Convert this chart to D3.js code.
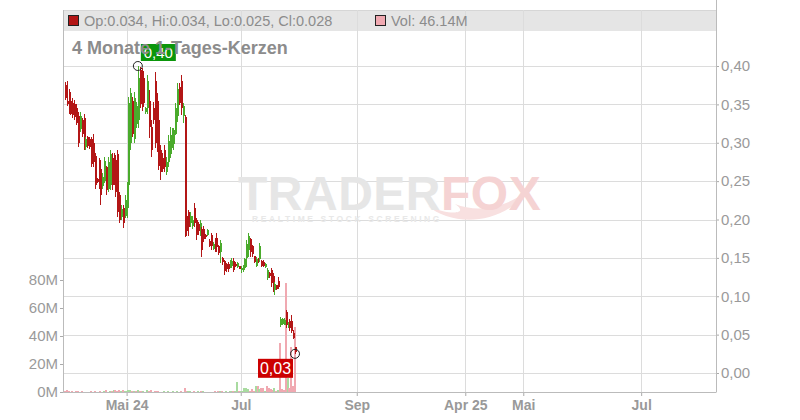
<!DOCTYPE html>
<html><head><meta charset="utf-8">
<script src="https://cdn.jsdelivr.net/npm/d3@7"></script>
<style>
body{margin:0;background:#fff;}
svg{display:block;font-family:"Liberation Sans",Arial,sans-serif;}
</style></head>
<body><svg id="c" width="800" height="420"></svg>
<script>
// ---- data ----
const firstDayOffset = -33; // first candle: 2024-03-29, offset in days from 2024-05-01
const openV  = [.375,.355,.366,.355,.352,.350,.345,.335,.318,.330,.332,.294,.307,.305,.305,.300,.283,.253,.277,.266,
 .243,.250,.268,.240,.245,.280,.275,.278,.285,.232,.203,.215,.205,.215,.245,.300,.355,.305,.325,.330,
 .395,.390,.385,.340,.345,.355,.320,.345,.380,.355,.330,.290,.280,.290,.262,.275,.285,.295,.298,.312,
 .335,.372,.380,.335,.333,.205,.210,.195,.192,.215,.200,.194,.183,.188,.188,.180,.180,.172,.180,.162,
 .173,.176,.165,.158,.150,.146,.142,.142,.138,.140,.146,.142,.138,.139,.134,.135,.137,.150,.160,.175,
 .165,.152,.140,.149,.148,.146,.145,.138,.124,.130,.134,.126,.108,.115,.120,.062,.064,.063,.080,.060,
 .068,.068,.052,.034];
const highV  = [.379,.380,.370,.358,.358,.356,.350,.340,.340,.332,.337,.307,.309,.308,.307,.312,.287,.254,.280,.270,
 .260,.281,.270,.281,.290,.287,.286,.284,.291,.236,.219,.219,.232,.249,.360,.371,.360,.366,.353,.400,
 .399,.398,.394,.347,.388,.369,.330,.353,.392,.365,.345,.297,.287,.297,.281,.310,.320,.319,.319,.352,
 .378,.378,.388,.352,.336,.206,.212,.210,.205,.221,.202,.197,.199,.190,.191,.181,.188,.175,.182,.171,
 .176,.182,.167,.173,.151,.147,.143,.145,.147,.150,.150,.145,.145,.140,.139,.141,.150,.173,.183,.176,
 .167,.153,.151,.150,.169,.147,.147,.143,.137,.132,.137,.130,.119,.115,.125,.073,.072,.072,.082,.066,
 .070,.075,.056,.034];
const lowV   = [.356,.348,.338,.336,.332,.330,.323,.294,.314,.307,.291,.291,.293,.292,.268,.269,.240,.248,.240,.219,
 .240,.248,.232,.236,.238,.238,.245,.229,.203,.195,.199,.189,.202,.202,.242,.290,.307,.300,.319,.319,
 .345,.342,.346,.338,.338,.306,.281,.325,.293,.288,.264,.251,.262,.262,.258,.268,.280,.293,.291,.310,
 .327,.349,.336,.326,.177,.178,.178,.190,.188,.190,.173,.180,.179,.151,.171,.175,.179,.164,.160,.160,
 .158,.158,.154,.143,.141,.128,.131,.131,.137,.137,.131,.138,.137,.135,.130,.132,.134,.138,.151,.151,
 .151,.143,.138,.143,.145,.138,.138,.137,.121,.124,.112,.105,.102,.108,.110,.060,.062,.062,.058,.058,
 .055,.052,.044,.025];
const closeV = [.358,.351,.342,.338,.336,.333,.326,.300,.335,.312,.296,.305,.296,.295,.272,.275,.245,.249,.243,.232,
 .256,.276,.238,.275,.285,.245,.250,.236,.210,.200,.214,.195,.226,.243,.352,.365,.312,.358,.348,.385,
 .350,.348,.352,.345,.380,.320,.290,.330,.300,.295,.270,.262,.266,.268,.275,.302,.310,.312,.316,.345,
 .370,.352,.345,.348,.203,.185,.190,.205,.200,.196,.180,.185,.195,.160,.175,.177,.186,.166,.165,.168,
 .162,.164,.157,.170,.144,.133,.135,.136,.145,.146,.134,.140,.143,.136,.137,.139,.148,.168,.178,.158,
 .155,.145,.149,.145,.165,.140,.139,.142,.134,.126,.117,.110,.116,.110,.112,.071,.070,.069,.062,.064,
 .058,.055,.046,.028];
const volumeM = [0.6,1.2,0.4,0.3,0.5,0.3,0.4,1.0,0.3,0.4, 0.3,0.2,0.3,0.2,0.4,0.3,0.5,0.2,0.3,0.6,
 0.3,0.4,1.1,0.3,0.4,0.5,1.5,1.3,0.9,1.4, 0.5,1.5,0.8,0.6,1.6,1.4,0.6,0.5,0.4,1.5,
 0.5,0.4,0.6,0.3,1.4,0.4,1.3,0.3,0.4,0.5, 0.4,0.3,0.3,0.4,0.3,0.4,0.3,0.3,0.4,0.3,
 0.4,0.3,0.4,0.3,3.0,0.4,1.0,0.9,0.3,0.4, 0.3,0.4,0.3,1.0,0.4,0.3,0.3,0.2,0.3,0.3,
 0.4,0.3,0.4,0.5,0.4,0.3,0.4,0.3,0.4,1.0, 0.6,0.5,7.0,1.0,0.5,0.6,3.0,3.2,2.5,1.0,
 2.0,0.8,4.0,4.2,2.0,3.0,3.0,1.0,4.0,3.0, 2.0,1.5,3.0,1.0,1.2,35,2.0,1.5,78,10,
 3.0,32,4.0,46.14];
const priceTicks = [0,0.05,0.10,0.15,0.20,0.25,0.30,0.35,0.40];
const volTicks = [0,20,40,60,80];
const timeTickDays = [0,61,123,181,212,275];
const timeTickLabels = ["Mai 24","Jul","Sep","Apr 25","Mai","Jul"];
const titleText = "4 Monate 1-Tages-Kerzen";
const legendText = "Op:0.034, Hi:0.034, Lo:0.025, Cl:0.028";
const volLegendText = "Vol: 46.14M";

// ---- layout ----
const L = 63, R = 716, T = 10, B = 392;
const svg = d3.select("#c");
const x = d3.scaleLinear().domain([-34, 315]).range([L, R]);
const y = d3.scaleLinear().domain([0, 0.40]).range([373, 66]);
const yv = d3.scaleLinear().domain([0, 80]).range([B, 280]);
const RED = "#b31616", GREEN = "#4aab2c", VRED = "#f0a9b1", VGREEN = "#a9dba0";

const candles = openV.map((o,i)=>({i, day:firstDayOffset+i, o, h:highV[i], l:lowV[i], c:closeV[i], v:volumeM[i]}));

// header band
svg.append("rect").attr("x",L).attr("y",T).attr("width",R-L).attr("height",21).attr("fill","#e5e5e5");
svg.append("line").attr("x1",L).attr("x2",R).attr("y1",T+0.5).attr("y2",T+0.5).attr("stroke","#d6d6d6");

// grid
const grid = svg.append("g").attr("shape-rendering","crispEdges");
grid.selectAll("line.h").data(priceTicks).join("line")
  .attr("x1",L).attr("x2",R).attr("y1",d=>Math.round(y(d))+0.5).attr("y2",d=>Math.round(y(d))+0.5)
  .attr("stroke","#dcdcdc");
grid.selectAll("line.v").data(timeTickDays).join("line")
  .attr("y1",T).attr("y2",B).attr("x1",d=>Math.round(x(d))+0.5).attr("x2",d=>Math.round(x(d))+0.5)
  .attr("stroke","#dcdcdc");

// watermark
const wm = svg.append("g");
wm.append("path").attr("d","M428,206 C452,226 505,230 540,178 C515,208 480,214 455,204 C470,214 450,216 428,206 Z")
  .attr("fill","#f8e0e0");
const wmt = wm.append("text").attr("x",238).attr("y",210).attr("font-size",48).attr("font-weight","bold")
  .attr("letter-spacing",0.5);
wmt.append("tspan").attr("fill","#e6e6e6").text("TRADER");
wmt.append("tspan").attr("fill","#f5d3d3").text("FOX");
wm.append("text").attr("x",252).attr("y",222).attr("font-size",8.5).attr("letter-spacing",2.6)
  .attr("fill","#e8e8e8").attr("font-weight","bold").text("REALTIME STOCK SCREENING");

// volume bars
svg.append("g").attr("shape-rendering","crispEdges").selectAll("rect").data(candles).join("rect")
  .attr("x",d=>Math.round(x(d.day))-1).attr("width",2)
  .attr("y",d=>yv(d.v)).attr("height",d=>B-yv(d.v))
  .attr("fill",d=>{const prev = d.i>0?closeV[d.i-1]:d.o; return d.c>=prev?VGREEN:VRED;});

// candles
const cg = svg.append("g").attr("shape-rendering","crispEdges");
const cs = cg.selectAll("g").data(candles).join("g");
cs.append("line")
  .attr("x1",d=>Math.round(x(d.day))+0.5).attr("x2",d=>Math.round(x(d.day))+0.5)
  .attr("y1",d=>y(d.h)).attr("y2",d=>y(d.l))
  .attr("stroke",d=>d.c>=d.o?GREEN:RED).attr("stroke-width",1);
cs.append("rect")
  .attr("x",d=>Math.round(x(d.day))-0.5).attr("width",2)
  .attr("y",d=>y(Math.max(d.o,d.c))).attr("height",d=>Math.max(1,Math.abs(y(d.o)-y(d.c))))
  .attr("fill",d=>d.c>=d.o?GREEN:RED);

// axes
const axRight = svg.append("g").attr("transform",`translate(${R},0)`)
  .call(d3.axisRight(y).tickValues(priceTicks).tickSize(3).tickPadding(2).tickSizeOuter(0)
    .tickFormat(d=>d.toFixed(2).replace(".",",")));
const axLeft = svg.append("g").attr("transform",`translate(${L},0)`)
  .call(d3.axisLeft(yv).tickValues(volTicks).tickSize(3).tickPadding(2).tickSizeOuter(0)
    .tickFormat(d=>d+"M"));
const axBottom = svg.append("g").attr("transform",`translate(0,${B})`)
  .call(d3.axisBottom(x).tickValues(timeTickDays).tickSize(4).tickPadding(4).tickSizeOuter(0)
    .tickFormat((d,i)=>timeTickLabels[i]));
[axRight,axLeft,axBottom].forEach(a=>{
  a.selectAll("path.domain").remove();
  a.selectAll(".tick line").attr("stroke","#aaa");
  a.selectAll("text").attr("fill","#9a9a9a").attr("font-size",15).attr("font-family","'Liberation Sans',Arial,sans-serif");
});
axBottom.selectAll("text").attr("font-size",14).attr("font-weight","bold").attr("fill","#999");
// frame lines
svg.append("line").attr("x1",L+0.5).attr("x2",L+0.5).attr("y1",T).attr("y2",B+0.5).attr("stroke","#bbb");
svg.append("line").attr("x1",R+0.5).attr("x2",R+0.5).attr("y1",0).attr("y2",B+0.5).attr("stroke","#bbb");
svg.append("line").attr("x1",L).attr("x2",R).attr("y1",B+0.5).attr("y2",B+0.5).attr("stroke","#bbb");

// high / low markers
const hiIdx = d3.maxIndex(candles,d=>d.h), loIdx = d3.minIndex(candles,d=>d.l);
const hi = candles[hiIdx], lo = candles[loIdx];
const hx = x(hi.day), hy = y(hi.h), lx = x(lo.day), ly = y(lo.l);
svg.append("rect").attr("x",hx+3).attr("y",hy-22).attr("width",35).attr("height",17).attr("fill","#0b960b");
svg.append("text").attr("x",hx+20.5).attr("y",hy-8).attr("text-anchor","middle").attr("fill","#fff")
  .attr("font-size",15).text(d3.format(".2f")(hi.h).replace(".",","));
svg.append("rect").attr("x",lx-37).attr("y",ly+5).attr("width",35).attr("height",19).attr("fill","#cc0000");
svg.append("text").attr("x",lx-19.5).attr("y",ly+20).attr("text-anchor","middle").attr("fill","#fff")
  .attr("font-size",16).text(d3.format(".2f")(lo.l+0.0001).replace(".",","));
[[hx,hy],[lx,ly]].forEach(([cx,cy])=>svg.append("circle").attr("cx",cx).attr("cy",cy).attr("r",4.5)
  .attr("fill","none").attr("stroke","#222").attr("stroke-width",1));

// title
svg.append("text").attr("x",72).attr("y",54).attr("font-size",18).attr("font-weight","bold")
  .attr("fill","#8c8c8c").text(titleText);

// legend
svg.append("rect").attr("x",68.5).attr("y",15.5).attr("width",10).attr("height",10).attr("fill","#b31616").attr("stroke","#222");
svg.append("text").attr("x",84).attr("y",26).attr("font-size",14.5).attr("fill","#8c8c8c").text(legendText);
svg.append("rect").attr("x",375.5).attr("y",15.5).attr("width",10).attr("height",10).attr("fill","#f0a9b1").attr("stroke","#222");
svg.append("text").attr("x",391).attr("y",26).attr("font-size",14.5).attr("fill","#8c8c8c").text(volLegendText);
</script></body></html>
